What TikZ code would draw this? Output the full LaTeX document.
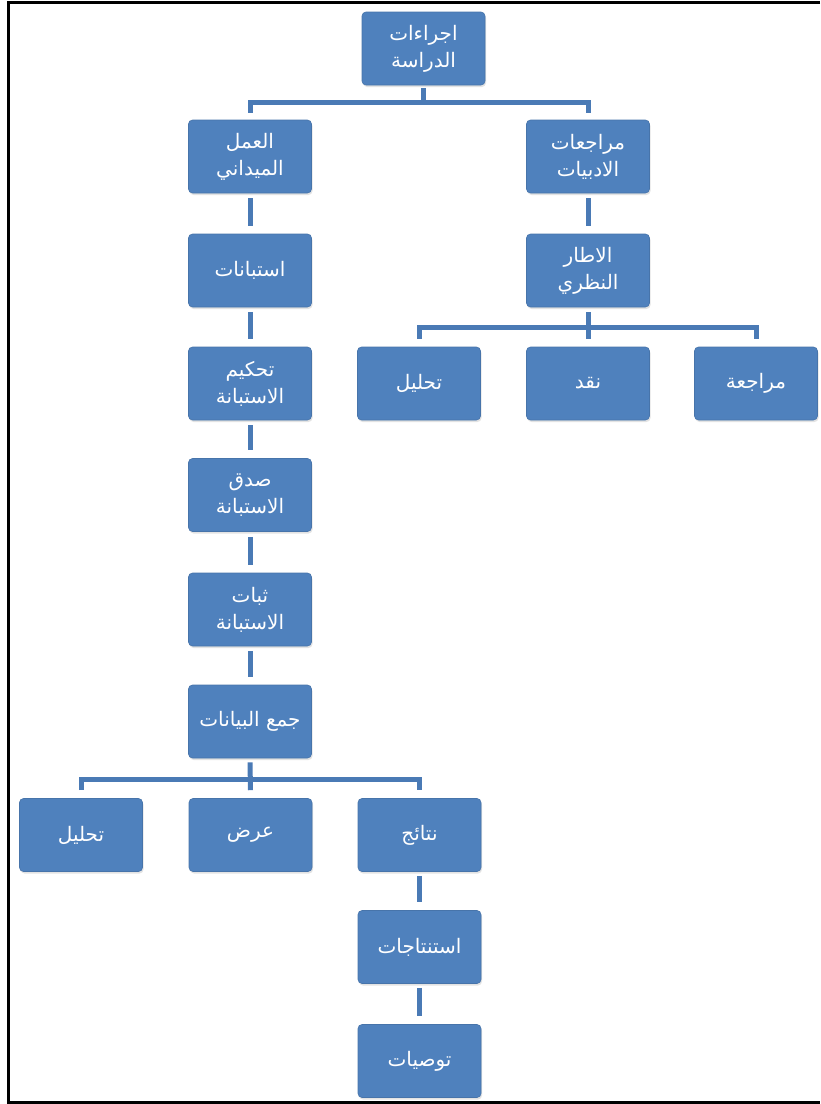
\documentclass[tikz,border=0pt]{standalone}
\usepackage{fontspec}
\newfontfamily\arabicfont[Script=Arabic]{DejaVu Sans}
\TeXXeTstate=1
\usetikzlibrary{shadows}
\definecolor{boxblue}{HTML}{4F81BD}
\definecolor{lineblue}{HTML}{4A7AB5}
\tikzset{
  box/.style={rectangle, rounded corners=4pt, fill=boxblue, draw=boxblue!90!black, line width=0.6pt,
    minimum width=123pt, minimum height=73pt, inner sep=2pt, text=white, align=center,
    font=\arabicfont\fontsize{20}{27}\selectfont,
    drop shadow={shadow xshift=1pt, shadow yshift=-2pt, opacity=0.18, fill=black!60}},
  conn/.style={draw=lineblue, line width=5pt, line cap=butt, line join=miter},
  frame/.style={draw=black, line width=3pt}
}
\begin{document}
\begin{tikzpicture}[x=1pt,y=-1pt]
\useasboundingbox (0,0) rectangle (820,1104);
\coordinate (fa) at (820,2);
\coordinate (fb) at (8,2);
\coordinate (fc) at (8,1102);
\coordinate (fd) at (820,1102);
\draw[frame] (fa) -- (fb) -- (fc) -- (fd);

\node[box] (top) at (423.5,48.5) {\beginR اجراءات\endR\\\beginR الدراسة\endR};
\node[box] (field) at (250,156.5) {\beginR العمل\endR\\\beginR الميداني\endR};
\node[box] (lit) at (588,156.5) {\beginR مراجعات\endR\\\beginR الادبيات\endR};

\node[box] (q) at (250,270.5) {\beginR استبانات\endR};
\node[box] (qjudge) at (250,383.5) {\beginR تحكيم\endR\\\beginR الاستبانة\endR};
\node[box] (qvalid) at (250,495) {\beginR صدق\endR\\\beginR الاستبانة\endR};
\node[box] (qrel) at (250,609.5) {\beginR ثبات\endR\\\beginR الاستبانة\endR};
\node[box] (data) at (250,721.5) {\beginR جمع البيانات\endR};

\node[box] (ana2) at (81,835) {\beginR تحليل\endR};
\node[box] (show) at (250.5,835) {\beginR عرض\endR};
\node[box] (res) at (419.5,835) {\beginR نتائج\endR};
\node[box] (concl) at (419.5,947) {\beginR استنتاجات\endR};
\node[box] (rec) at (419.5,1061) {\beginR توصيات\endR};

\node[box] (frame) at (588,270.5) {\beginR الاطار\endR\\\beginR النظري\endR};
\node[box] (ana1) at (419,383.5) {\beginR تحليل\endR};
\node[box] (crit) at (588,383.5) {\beginR نقد\endR};
\node[box] (rev) at (756,383.5) {\beginR مراجعة\endR};

% top tree
\draw[conn] ([yshift=-3pt]top.south) -- ([yshift=17pt]top.south |- field.north);
\draw[conn] ([yshift=7pt]field.north) -- ([yshift=17pt]field.north) -- ([yshift=17pt]lit.north) -- ([yshift=7pt]lit.north);

% left column
\draw[conn, shorten <=5pt, shorten >=8pt] (field) -- (q);
\draw[conn, shorten <=5pt, shorten >=8pt] (q) -- (qjudge);
\draw[conn, shorten <=5pt, shorten >=8pt] (qjudge) -- (qvalid);
\draw[conn, shorten <=5pt, shorten >=8pt] (qvalid) -- (qrel);
\draw[conn, shorten <=5pt, shorten >=8pt] (qrel) -- (data);

% bottom tree
\draw[conn] ([yshift=-4pt]data.south) -- ([yshift=8pt]show.north);
\draw[conn] ([yshift=8pt]ana2.north) -- ([yshift=19pt]ana2.north) -- ([yshift=19pt]res.north) -- ([yshift=8pt]res.north);
\draw[conn, shorten <=4pt, shorten >=8pt] (res) -- (concl);
\draw[conn, shorten <=4pt, shorten >=8pt] (concl) -- (rec);

% right column
\draw[conn, shorten <=5pt, shorten >=8pt] (lit) -- (frame);
\draw[conn] ([yshift=-5pt]frame.south) -- ([yshift=8pt]crit.north);
\draw[conn] ([yshift=8pt]ana1.north) -- ([yshift=19pt]ana1.north) -- ([yshift=19pt]rev.north) -- ([yshift=8pt]rev.north);
\end{tikzpicture}
\end{document}
